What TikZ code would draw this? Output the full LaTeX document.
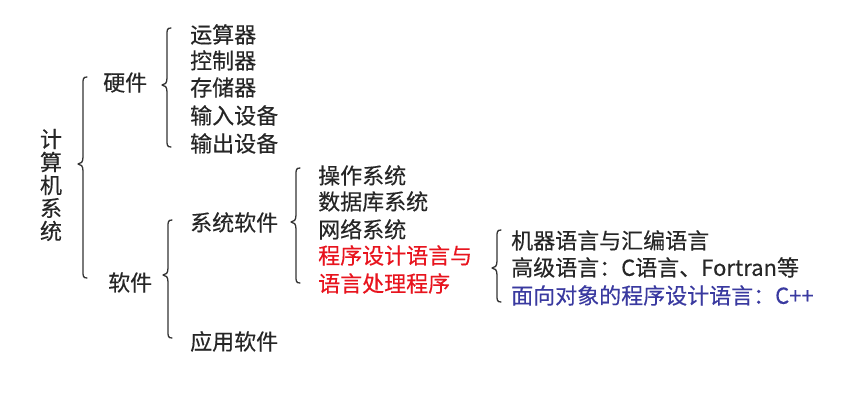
\documentclass[tikz,border=0pt]{standalone}
\usepackage{fontspec}
\setmainfont{Noto Sans CJK SC}[FakeBold=0.3]
\begin{document}
\begin{tikzpicture}[x=1pt,y=-1pt,
  base/.style={inner sep=0pt,font=\fontsize{22}{23}\selectfont,text=black!85},
  lbl/.style={base,anchor=west,text height=0.8em,text depth=0.04em,yshift=-4pt},
  redt/.style={lbl,text={rgb,255:red,232;green,20;blue,30}},
  bluet/.style={lbl,text={rgb,255:red,58;green,58;blue,160}},
  brace/.style={draw=black!80,line width=1.3pt,line cap=round,line join=round}]
\useasboundingbox[fill=white] (0,0) rectangle (845,400);
\newcommand\cbrace[4]{%
\draw[brace] (#1+4,#2) .. controls (#1,#2) and (#1,#2+2) .. (#1,#2+7) -- (#1,#3-7) .. controls (#1,#3-2) and (#1-2,#3) .. (#1-5,#3) .. controls (#1-2,#3) and (#1,#3+2) .. (#1,#3+7) -- (#1,#4-7) .. controls (#1,#4-2) and (#1,#4) .. (#1+4,#4);}
% root
\node[base,anchor=center,align=center] (root) at (51,185) {计\\算\\机\\系\\统};
\cbrace{83}{77}{164}{278}
\node[lbl] (hw) at (103,83) {硬件};
\node[lbl] (sw) at (108,283) {软件};
% hardware
\cbrace{167}{28}{85}{147}
\node[lbl] (h1) at (190,35) {运算器};
\node[lbl] (h2) at (190,61) {控制器};
\node[lbl] (h3) at (190,88) {存储器};
\node[lbl] (h4) at (190,116) {输入设备};
\node[lbl] (h5) at (190,144) {输出设备};
% software
\cbrace{168}{220}{275}{338}
\node[lbl] (ss) at (190,223) {系统软件};
\node[lbl] (as) at (190,342) {应用软件};
% system software
\cbrace{296}{168}{222}{283}
\node[lbl] (s1) at (318,176) {操作系统};
\node[lbl] (s2) at (318,202) {数据库系统};
\node[lbl] (s3) at (318,230) {网络系统};
\node[redt] (s4) at (318,256) {程序设计语言与};
\node[redt] (s5) at (318,284) {语言处理程序};
% languages
\cbrace{497}{230}{268}{302}
\node[lbl] (l1) at (511,241) {机器语言与汇编语言};
\node[lbl] (l2) at (511,268) {高级语言：C语言、Fortran等};
\node[bluet] (l3) at (511,296) {面向对象的程序设计语言：C++};
\end{tikzpicture}
\end{document}
